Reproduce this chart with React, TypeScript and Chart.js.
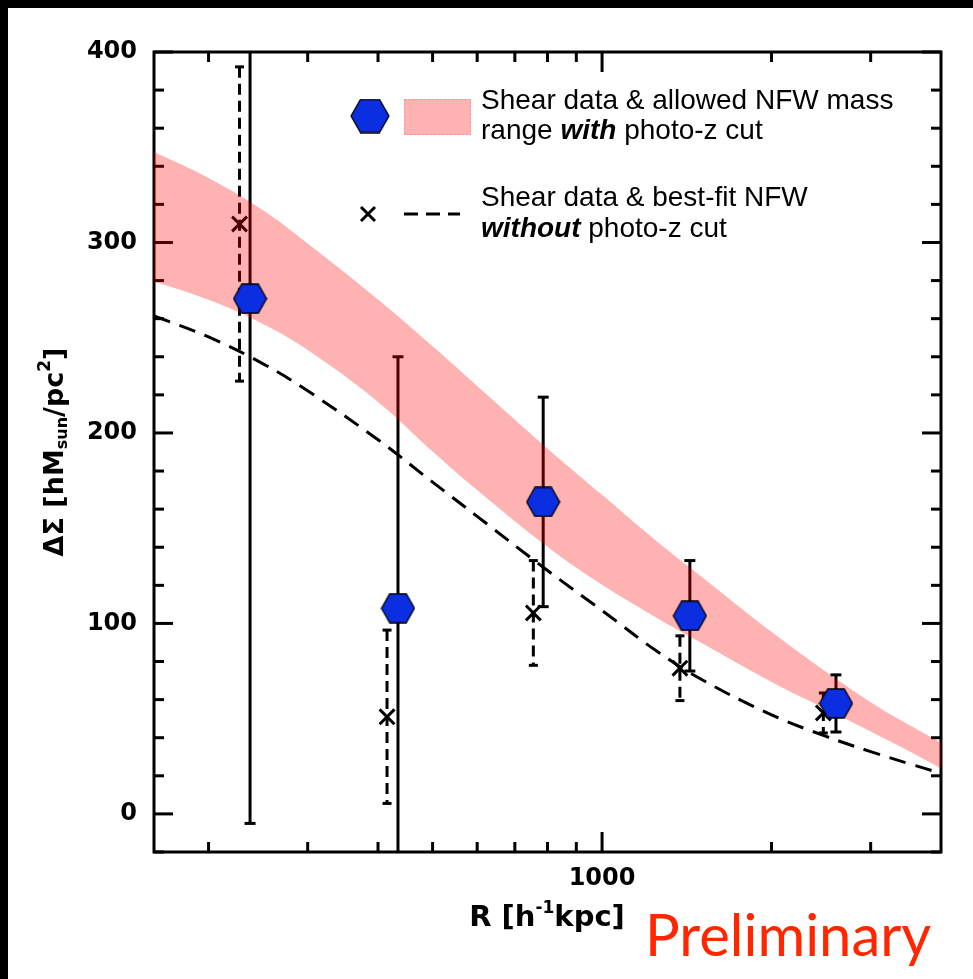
import React, { useEffect, useRef } from "react";
import { Chart, registerables } from "chart.js";

Chart.register(...registerables);

const W = 973;
const H = 979;

// Shear data WITH photo-z cut (blue hexagons)
const radiusWith = [237, 434, 786, 1432, 2603];
const sigmaWith = [270.5, 108, 163.8, 104, 58];
const errWith = [275.5, 132, 55, 29, 15];

// Shear data WITHOUT photo-z cut (crosses, dashed error bars)
const radiusWithout = [227, 415, 755, 1375, 2472];
const sigmaWithout = [309.7, 51, 105.5, 76.5, 53];
const errWithout = [82.5, 45.5, 27.5, 17, 10.5];

// Model curves (allowed NFW range, best-fit NFW)
const modelRadius = [160, 200, 250, 300, 400, 500, 600, 800, 1000, 1250, 1500, 2000, 2500, 3000, 3500, 4000];
const bandUpper = [347.5, 333.9, 316.9, 299.4, 270, 245.5, 224.7, 191.9, 167.5, 143.2, 124.7, 95.6, 74.6, 58.6, 46.9, 37.4];
const bandLower = [279.5, 269.9, 257.2, 243.5, 216.3, 190.3, 170, 140.2, 120.3, 103, 89.8, 69.3, 55.1, 43.3, 33.2, 24];
const bestFit = [261.4, 250.4, 236.3, 222.1, 196.4, 174.2, 156.2, 127.8, 106.8, 85.5, 70.7, 52, 40.7, 32.7, 26.5, 21.3];

// Axes
const xMin = 160;
const xMax = 4000;
const xTickValues = [200, 300, 400, 500, 600, 700, 800, 900, 1000, 2000, 3000];
const xLabelledTicks = [1000];
const yMin = -20;
const yMax = 400;
const yStep = 20;
const yLabelledTicks = [0, 100, 200, 300, 400];

const BLUE = "#0a2ee0";
const BAND = "rgba(255,0,0,0.3)";

function makeHex(w: number, h: number): HTMLCanvasElement {
  const c = document.createElement("canvas");
  c.width = w + 2;
  c.height = h + 2;
  const g = c.getContext("2d")!;
  const cx = c.width / 2;
  const cy = c.height / 2;
  g.beginPath();
  g.moveTo(cx - w / 2, cy);
  g.lineTo(cx - w / 4, cy - h / 2);
  g.lineTo(cx + w / 4, cy - h / 2);
  g.lineTo(cx + w / 2, cy);
  g.lineTo(cx + w / 4, cy + h / 2);
  g.lineTo(cx - w / 4, cy + h / 2);
  g.closePath();
  g.fillStyle = BLUE;
  g.fill();
  g.lineWidth = 1.3;
  g.strokeStyle = "#000";
  g.stroke();
  return c;
}

type Part = { t: string; size: number; dy?: number; style?: string };

function drawParts(ctx: CanvasRenderingContext2D, parts: Part[], x: number, y: number, family: string, align: "left" | "center") {
  let total = 0;
  const widths = parts.map((p) => {
    ctx.font = `${p.style || "bold"} ${p.size}px ${family}`;
    const w = ctx.measureText(p.t).width;
    total += w;
    return w;
  });
  let cx = align === "center" ? x - total / 2 : x;
  ctx.textAlign = "left";
  parts.forEach((p, i) => {
    ctx.font = `${p.style || "bold"} ${p.size}px ${family}`;
    ctx.fillText(p.t, cx, y + (p.dy || 0));
    cx += widths[i];
  });
}

export default function App() {
  const ref = useRef<HTMLCanvasElement>(null);

  useEffect(() => {
    const canvas = ref.current!;
    const hexData = makeHex(33, 29);
    const hexLegend = makeHex(38, 33);

    const framePlugin = {
      id: "framePlugin",
      beforeDraw(chart: any) {
        const ctx = chart.ctx;
        ctx.save();
        ctx.fillStyle = "#fff";
        ctx.fillRect(0, 0, W, H);
        ctx.fillStyle = "#000";
        ctx.fillRect(0, 0, W, 8);
        ctx.fillRect(0, 0, 8, H);
        ctx.restore();
      },
      beforeDatasetsDraw(chart: any) {
        const { ctx, chartArea: a, scales } = chart;
        const xs = scales.x;
        const ys = scales.y;
        ctx.save();
        ctx.strokeStyle = "#000";
        ctx.lineWidth = 3;
        const line = (x1: number, y1: number, x2: number, y2: number) => {
          ctx.beginPath();
          ctx.moveTo(x1, y1);
          ctx.lineTo(x2, y2);
          ctx.stroke();
        };
        ys.ticks.forEach((t: any) => {
          const y = ys.getPixelForValue(t.value);
          const len = yLabelledTicks.includes(t.value) ? 19 : 10;
          line(a.left, y, a.left + len, y);
          line(a.right - len, y, a.right, y);
        });
        xs.ticks.forEach((t: any) => {
          const x = xs.getPixelForValue(t.value);
          const len = xLabelledTicks.includes(t.value) ? 20 : 10;
          line(x, a.bottom, x, a.bottom - len);
          line(x, a.top, x, a.top + len);
        });
        ctx.lineJoin = "miter";
        ctx.strokeRect(a.left, a.top, a.right - a.left, a.bottom - a.top);

        // error bars, clipped to the plot area
        ctx.beginPath();
        ctx.rect(a.left, a.top, a.right - a.left, a.bottom - a.top);
        ctx.clip();
        const bar = (r: number, v: number, e: number, dashed: boolean, cap: number) => {
          const x = xs.getPixelForValue(r);
          const y1 = ys.getPixelForValue(v + e);
          const y2 = ys.getPixelForValue(v - e);
          ctx.setLineDash(dashed ? [11, 6] : []);
          line(x, y1, x, y2);
          ctx.setLineDash([]);
          line(x - cap / 2, y1, x + cap / 2, y1);
          line(x - cap / 2, y2, x + cap / 2, y2);
        };
        radiusWithout.forEach((r, i) => bar(r, sigmaWithout[i], errWithout[i], true, 9));
        radiusWith.forEach((r, i) => bar(r, sigmaWith[i], errWith[i], false, 11));
        ctx.restore();
      },
      afterDraw(chart: any) {
        const ctx = chart.ctx;
        ctx.save();
        ctx.fillStyle = "#000";
        ctx.textBaseline = "middle";

        // Y axis title
        ctx.save();
        ctx.translate(56, 452);
        ctx.rotate(-Math.PI / 2);
        drawParts(
          ctx,
          [
            { t: "ΔΣ [hM", size: 27 },
            { t: "sun", size: 16, dy: 7 },
            { t: "/pc", size: 27 },
            { t: "2", size: 17, dy: -10 },
            { t: "]", size: 27 },
          ],
          0,
          0,
          "'DejaVu Sans'",
          "center"
        );
        ctx.restore();

        // X axis title
        drawParts(
          ctx,
          [
            { t: "R [h", size: 29 },
            { t: "-1", size: 17, dy: -9 },
            { t: "kpc]", size: 29 },
          ],
          547,
          918,
          "'DejaVu Sans'",
          "center"
        );

        // Preliminary
        ctx.textBaseline = "alphabetic";
        ctx.fillStyle = "#ff2600";
        ctx.font = "58px Lato";
        ctx.textAlign = "left";
        ctx.fillText("Preliminary", 645, 956);

        // Legend
        ctx.drawImage(hexLegend, 370 - hexLegend.width / 2, 116 - hexLegend.height / 2);
        ctx.fillStyle = "rgb(255,178,178)";
        ctx.fillRect(404, 99, 67, 36);
        ctx.strokeStyle = "rgba(240,120,120,0.6)";
        ctx.lineWidth = 1;
        ctx.setLineDash([2, 2]);
        ctx.strokeRect(404.5, 99.5, 66, 35);
        ctx.setLineDash([]);

        // cross marker
        ctx.strokeStyle = "#000";
        ctx.lineWidth = 3;
        const cx = 368, cy = 214, d = 7;
        ctx.beginPath();
        ctx.moveTo(cx - d, cy - d);
        ctx.lineTo(cx + d, cy + d);
        ctx.moveTo(cx - d, cy + d);
        ctx.lineTo(cx + d, cy - d);
        ctx.stroke();
        ctx.setLineDash([14, 8]);
        ctx.beginPath();
        ctx.moveTo(404, 214);
        ctx.lineTo(460, 214);
        ctx.stroke();
        ctx.setLineDash([]);

        ctx.fillStyle = "#000";
        ctx.textBaseline = "middle";
        const fam = "'Liberation Sans'";
        drawParts(ctx, [{ t: "Shear data & allowed NFW mass", size: 28, style: "normal" }], 481, 101, fam, "left");
        drawParts(
          ctx,
          [
            { t: "range ", size: 28, style: "normal" },
            { t: "with", size: 28, style: "italic bold" },
            { t: " photo-z cut", size: 28, style: "normal" },
          ],
          481,
          131,
          fam,
          "left"
        );
        drawParts(ctx, [{ t: "Shear data & best-fit NFW", size: 28, style: "normal" }], 481, 198, fam, "left");
        drawParts(
          ctx,
          [
            { t: "without", size: 28, style: "italic bold" },
            { t: " photo-z cut", size: 28, style: "normal" },
          ],
          481,
          229,
          fam,
          "left"
        );
        ctx.restore();
      },
    };

    const chart = new Chart(canvas, {
      type: "line",
      data: {
        datasets: [
          {
            label: "Shear data without photo-z cut",
            data: radiusWithout.map((r, i) => ({ x: r, y: sigmaWithout[i] })),
            showLine: false,
            pointStyle: "crossRot",
            pointRadius: 10.5,
            pointBorderWidth: 3,
            borderColor: "#000",
            backgroundColor: "#000",
            order: 5,
          },
          {
            label: "Best-fit NFW without photo-z cut",
            data: modelRadius.map((r, i) => ({ x: r, y: bestFit[i] })),
            borderColor: "#000",
            borderWidth: 3,
            borderDash: [17, 10],
            pointRadius: 0,
            fill: false,
            tension: 0.4,
            order: 4,
          },
          {
            label: "NFW lower",
            data: modelRadius.map((r, i) => ({ x: r, y: bandLower[i] })),
            borderWidth: 0,
            borderColor: "rgba(0,0,0,0)",
            pointRadius: 0,
            fill: false,
            tension: 0.4,
            order: 3,
          },
          {
            label: "Allowed NFW mass range with photo-z cut",
            data: modelRadius.map((r, i) => ({ x: r, y: bandUpper[i] })),
            borderWidth: 0,
            borderColor: "rgba(0,0,0,0)",
            backgroundColor: BAND,
            pointRadius: 0,
            fill: "-1",
            tension: 0.4,
            order: 2,
          },
          {
            label: "Shear data with photo-z cut",
            data: radiusWith.map((r, i) => ({ x: r, y: sigmaWith[i] })),
            showLine: false,
            pointStyle: hexData as any,
            pointRadius: 16,
            order: 1,
          },
        ],
      },
      options: {
        animation: false,
        responsive: false,
        devicePixelRatio: 1,
        events: [],
        layout: { padding: { left: 0, top: 52, right: 32, bottom: 0 } },
        plugins: {
          legend: { display: false },
          tooltip: { enabled: false },
        },
        scales: {
          x: {
            type: "logarithmic",
            min: xMin,
            max: xMax,
            grid: { display: false, drawTicks: false },
            border: { display: false },
            afterBuildTicks: (scale: any) => {
              scale.ticks = xTickValues.map((v) => ({ value: v, major: xLabelledTicks.includes(v) }));
            },
            afterFit: (scale: any) => {
              scale.height = H - 852;
            },
            ticks: {
              autoSkip: false,
              maxRotation: 0,
              padding: 12,
              color: "#000",
              font: { family: "'DejaVu Sans'", weight: "bold", size: 24 },
              callback: (v: any) => (xLabelledTicks.includes(Number(v)) ? String(v) : ""),
            },
          },
          y: {
            type: "linear",
            min: yMin,
            max: yMax,
            grid: { display: false, drawTicks: false },
            border: { display: false },
            afterFit: (scale: any) => {
              scale.width = 154;
            },
            ticks: {
              stepSize: yStep,
              autoSkip: false,
              padding: 17,
              color: "#000",
              font: { family: "'DejaVu Sans'", weight: "bold", size: 24 },
              callback: (v: any) => (yLabelledTicks.includes(Number(v)) ? String(v) : ""),
            },
          },
        },
      },
      plugins: [framePlugin],
    } as any);

    return () => chart.destroy();
  }, []);

  return (
    <div style={{ position: "absolute", left: 0, top: 0, width: W, height: H, background: "#fff" }}>
      <canvas ref={ref} width={W} height={H} style={{ display: "block", width: W, height: H }} />
    </div>
  );
}
